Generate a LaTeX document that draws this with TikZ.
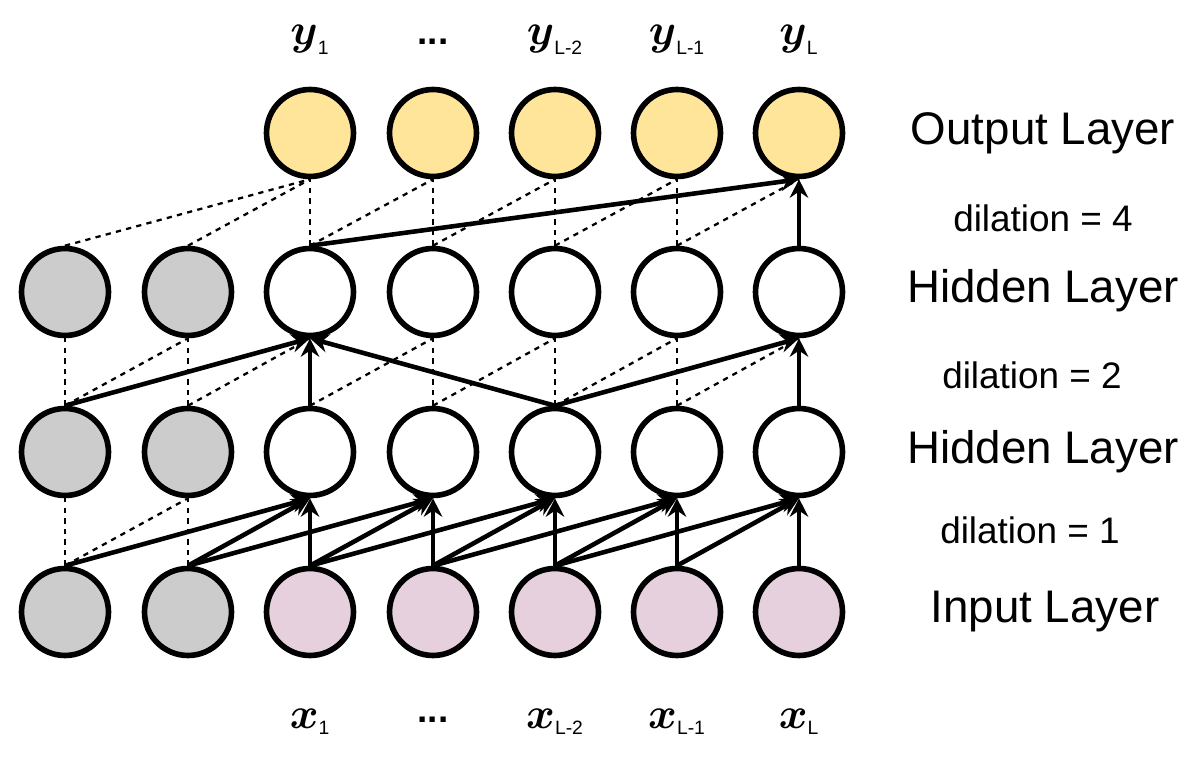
\documentclass[tikz,border=0pt]{standalone}
\usepackage{amsmath}
\usepackage{fontspec}
\setmainfont{Liberation Sans}
\usetikzlibrary{arrows.meta}

\definecolor{outyellow}{HTML}{FFE599}
\definecolor{inpink}{HTML}{E6D0DE}
\definecolor{padgray}{HTML}{CCCCCC}
\newcommand{\seqlab}[2]{$\boldsymbol{#1}_{\text{\fontsize{11}{11}\selectfont #2}}$}

\begin{document}
\begin{tikzpicture}[x=0.02cm, y=-0.02cm, >={Stealth[length=10.5pt,width=10.5pt,inset=3.5pt]},
	unit/.style={circle, draw, line width=3.2pt, minimum size=1.74cm, inner sep=0pt},
	pad/.style={unit, fill=padgray},
	inp/.style={unit, fill=inpink},
	hid/.style={unit, fill=white},
	outp/.style={unit, fill=outyellow},
	conn/.style={->, line width=2.6pt},
	skip/.style={dashed, line width=1.3pt},
	layer/.style={font=\fontsize{26}{30}\selectfont},
	dil/.style={font=\fontsize{21}{25}\selectfont},
	seq/.style={font=\fontsize{30}{34}\selectfont}]
	\useasboundingbox (0,0) rectangle (1200,759);
	
	% units
	\foreach \i/\x in {1/65, 2/188} {
		\node[pad] (in\i) at (\x,612) {};
		\node[pad] (ha\i) at (\x,452) {};
		\node[pad] (hb\i) at (\x,292) {};
	}
	\foreach \i/\x in {3/310, 4/433, 5/555, 6/677, 7/799} {
		\node[inp] (in\i) at (\x,612) {};
		\node[hid] (ha\i) at (\x,452) {};
		\node[hid] (hb\i) at (\x,292) {};
		\node[outp] (out\i) at (\x,133) {};
	}
	
	% sequence labels
	\node[seq] (y1) at (310,40) {\seqlab{y}{1}};
	\node[dil] (ydots) at (433,42) {\textbf{...}};
	\node[seq] (yl2) at (555,40) {\seqlab{y}{L-2}};
	\node[seq] (yl1) at (677,40) {\seqlab{y}{L-1}};
	\node[seq] (yl) at (799,40) {\seqlab{y}{L}};
	\node[seq] (x1) at (310,722) {\seqlab{x}{1}};
	\node[dil] (xdots) at (433,720) {\textbf{...}};
	\node[seq] (xl2) at (555,722) {\seqlab{x}{L-2}};
	\node[seq] (xl1) at (677,722) {\seqlab{x}{L-1}};
	\node[seq] (xl) at (799,722) {\seqlab{x}{L}};
	
	% layer names
	\node[layer] (lout) at (1043,133) {Output Layer};
	\node[dil] (d4) at (1043,218) {dilation = 4};
	\node[layer] (lhb) at (1043,291) {Hidden Layer};
	\node[dil] (d2) at (1032,375) {dilation = 2};
	\node[layer] (lha) at (1043,452) {Hidden Layer};
	\node[dil] (d1) at (1030,530) {dilation = 1};
	\node[layer] (lin) at (1045,612) {Input Layer};
	
	% input -> hidden
	\draw[skip] (in1.north) -- (ha1.south);
	\draw[skip] (in1.north) -- (ha2.south);
	\draw[skip] (in2.north) -- (ha2.south);
	\foreach \j in {3,...,7} {
		\pgfmathtruncatemacro{\a}{\j-1}
		\pgfmathtruncatemacro{\b}{\j-2}
		\draw[conn] (in\j.north) -- (ha\j.south);
		\draw[conn] (in\a.north) -- (ha\j.south);
		\draw[conn] (in\b.north) -- (ha\j.south);
	}
	
	% hidden -> hidden
	\foreach \j in {1,2,4,5,6} \draw[skip] (ha\j.north) -- (hb\j.south);
	\foreach \j/\k in {1/2,2/3,3/4,4/5,5/6,6/7} \draw[skip] (ha\j.north) -- (hb\k.south);
	\foreach \j/\k in {3/3,7/7,1/3,5/7,5/3} \draw[conn] (ha\j.north) -- (hb\k.south);
	
	% hidden -> output
	\foreach \j/\k in {1/3,2/3,3/3,3/4,4/4,4/5,5/5,5/6,6/6,6/7} \draw[skip] (hb\j.north) -- (out\k.south);
	\foreach \j in {3,7} \draw[conn] (hb\j.north) -- (out7.south);
\end{tikzpicture}
\end{document}
